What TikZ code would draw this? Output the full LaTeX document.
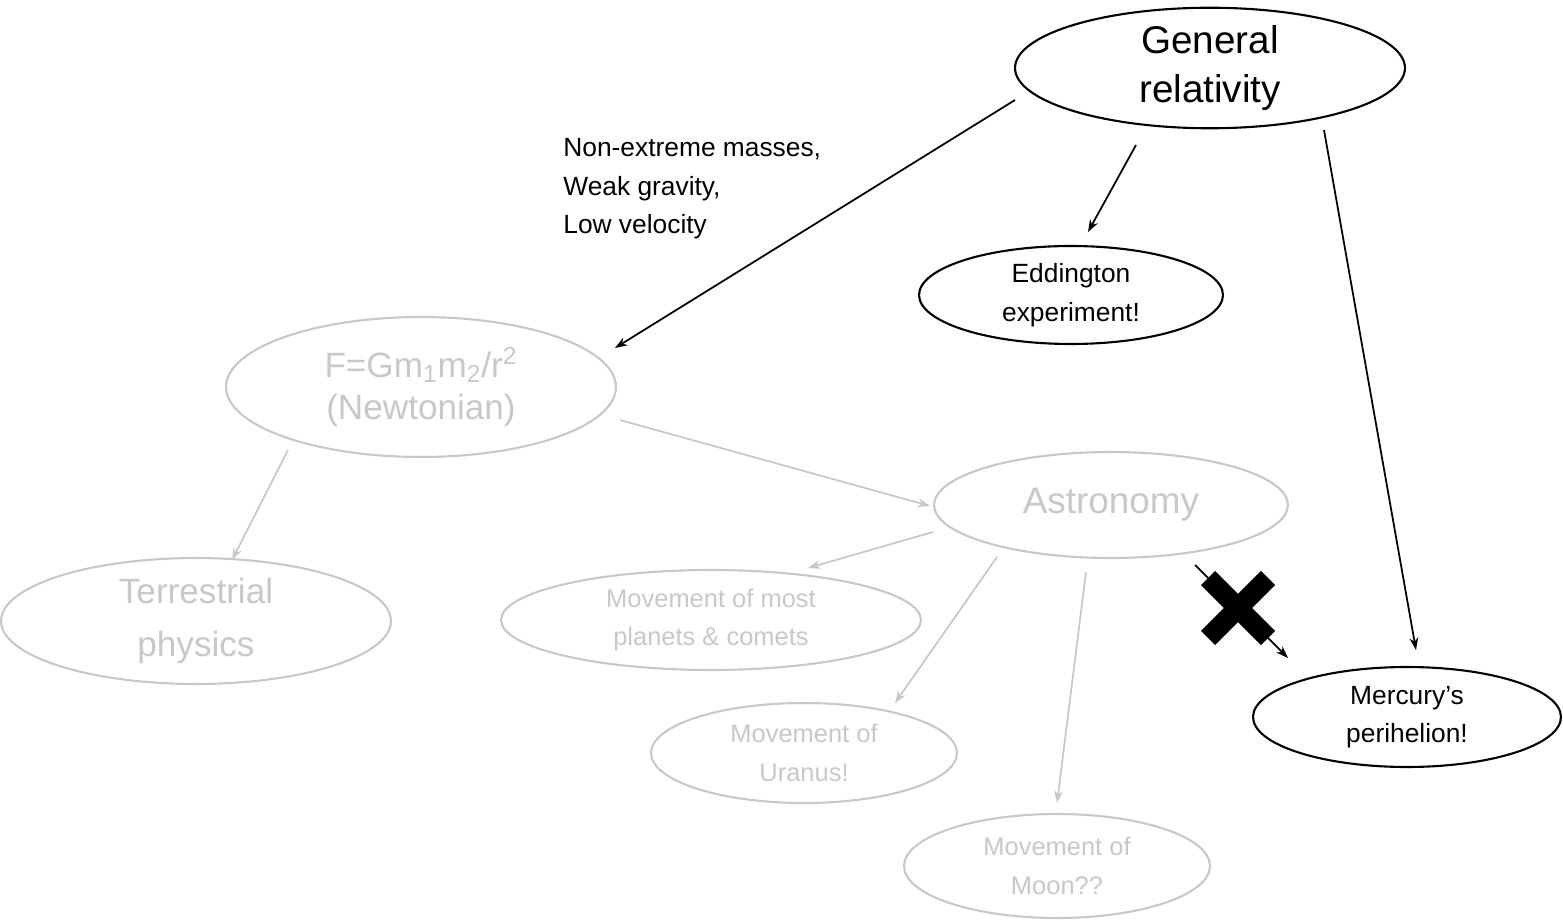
\documentclass[tikz,border=0pt]{standalone}
\usepackage{fontspec}
\setmainfont{Liberation Sans}
\usetikzlibrary{shapes.geometric,arrows.meta,calc}
\definecolor{lg}{RGB}{200,200,200}
\begin{document}
\begin{tikzpicture}[x=0.02cm,y=-0.02cm,
 el/.style={ellipse,draw,line width=1.2pt,inner sep=0pt,align=center},
 gel/.style={el,draw=lg,text=lg},
 ar/.style={-{Stealth[length=7pt,width=5pt]},line width=1pt},
 gar/.style={ar,draw=lg},
 big/.style={font=\fontsize{22}{28}\selectfont},
 mid/.style={font=\fontsize{15}{22}\selectfont},
 sm/.style={font=\fontsize{14.5}{22}\selectfont}]
\useasboundingbox (0,0) rectangle (1563,922);
\node[el,big,minimum width=7.8cm,minimum height=2.28cm] (gr) at (1210,68) {General\\relativity};
\node[el,mid,minimum width=6.08cm,minimum height=1.96cm] (ed) at (1071,295) {Eddington\\experiment!};
\node[gel,font=\fontsize{20}{24}\selectfont,minimum width=7.8cm,minimum height=2.8cm] (nw) at (421,387) {F=Gm\textsubscript{1}m\textsubscript{2}/r\textsuperscript{2}\\(Newtonian)};
\node[gel,font=\fontsize{21}{26}\selectfont,minimum width=7.08cm,minimum height=2.12cm] (as) at (1111,505) {Astronomy};
\node[gel,font=\fontsize{20}{30}\selectfont,minimum width=7.8cm,minimum height=2.52cm] (te) at (196,621) {Terrestrial\\physics};
\node[gel,sm,minimum width=8.4cm,minimum height=2cm] (mp) at (711,620) {Movement of most\\planets \& comets};
\node[gel,sm,minimum width=6.12cm,minimum height=2cm] (ur) at (804,753) {Movement of\\Uranus!};
\node[gel,sm,minimum width=6.12cm,minimum height=2.08cm] (mo) at (1057,866) {Movement of\\Moon??};
\node[el,mid,minimum width=6.16cm,minimum height=2cm] (me) at (1407,717) {Mercury’s\\perihelion!};
\node[mid,align=left,anchor=north west,inner sep=0pt] (lb) at (563,138) {Non-extreme masses,\\Weak gravity,\\Low velocity};
\coordinate (c1) at (1015,100); \coordinate (c2) at (615,348);
\draw[ar] (c1) -- (c2);
\coordinate (c3) at (1136,145); \coordinate (c4) at (1088,232);
\draw[ar] (c3) -- (c4);
\coordinate (c5) at (1324,130); \coordinate (c6) at (1416,650);
\draw[ar] (c5) -- (c6);
\coordinate (d1) at (620,420); \coordinate (d2) at (930,506);
\draw[gar] (d1) -- (d2);
\coordinate (d3) at (288,450); \coordinate (d4) at (232,560);
\draw[gar] (d3) -- (d4);
\coordinate (d5) at (933,532); \coordinate (d6) at (808,568);
\draw[gar] (d5) -- (d6);
\coordinate (d7) at (997,557); \coordinate (d8) at (895,703);
\draw[gar] (d7) -- (d8);
\coordinate (d9) at (1086,572); \coordinate (d10) at (1057,803);
\draw[gar] (d9) -- (d10);
\coordinate (x1) at (1195,565); \coordinate (x2) at (1288,658);
\draw[ar] (x1) -- (x2);
\coordinate (xc) at (1238,608);
\draw[line width=0.4cm] ($(xc)+(-30,-30)$) -- ($(xc)+(30,30)$);
\draw[line width=0.4cm] ($(xc)+(30,-30)$) -- ($(xc)+(-30,30)$);
\end{tikzpicture}
\end{document}
